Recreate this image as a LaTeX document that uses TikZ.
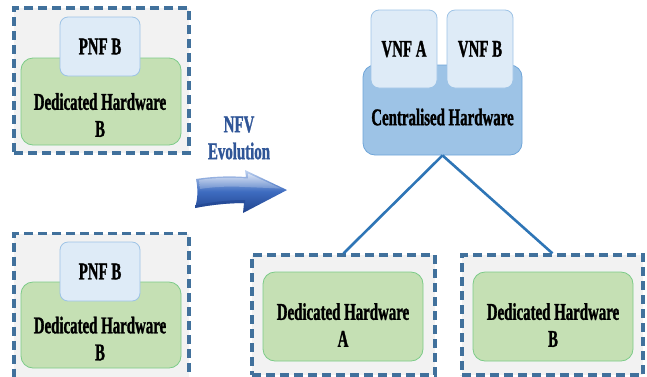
\documentclass[tikz,border=0pt]{standalone}
\usepackage{fontspec}
\setmainfont{Liberation Serif}[FakeStretch=0.62, BoldFeatures={FakeBold=1.2}]
\definecolor{frameblue}{HTML}{41719C}
\definecolor{framegray}{HTML}{F2F2F2}
\definecolor{hwgreen}{HTML}{C5E0B4}
\definecolor{hwgreenline}{HTML}{7CCB88}
\definecolor{nfblue}{HTML}{DEEBF7}
\definecolor{nfblueline}{HTML}{9DC3E6}
\definecolor{centblue}{HTML}{9DC3E6}
\definecolor{centline}{HTML}{6FA5D8}
\definecolor{linkblue}{HTML}{2E75B6}
\definecolor{titleblue}{HTML}{2F5597}
\definecolor{arrowlight}{HTML}{C0D3F0}
\definecolor{arrowmid}{HTML}{3E6CC0}
\definecolor{arrowdark}{HTML}{1F428C}
\tikzset{
  site/.style={draw=frameblue, fill=framegray, line width=3.2pt,
    dash pattern=on 9pt off 5pt, inner sep=0pt},
  hwbox/.style={draw=hwgreenline, fill=hwgreen, line width=0.8pt,
    rounded corners=12pt, inner sep=0pt, minimum width=160pt},
  nfbox/.style={draw=nfblueline, fill=nfblue, line width=0.8pt,
    rounded corners=8pt, inner sep=0pt},
  centbox/.style={draw=centline, fill=centblue, line width=0.8pt,
    rounded corners=12pt, inner sep=0pt},
  lbl/.style={font=\bfseries\fontsize{24}{27}\selectfont, align=center,
    inner sep=0pt, text=black},
  link/.style={draw=linkblue, line width=2.6pt},
}
\begin{document}
\begin{tikzpicture}[x=1pt, y=-1pt]
\useasboundingbox (0,0) rectangle (647,376);

% left: physical network functions on dedicated hardware
\node[site, minimum width=175pt, minimum height=145pt] (site1) at (101.5,80.5) {};
\node[hwbox, minimum height=87pt] (hw1) at (101,101.5) {};
\node[lbl] (hw1t) at (100,115) {Dedicated Hardware\\B};
\node[nfbox, minimum width=80pt, minimum height=59pt, lbl] (pnf1) at (100,46.5) {PNF B};

\node[site, minimum width=175pt, minimum height=145pt] (site2) at (101.5,306) {};
\node[hwbox, minimum height=86pt] (hw2) at (101,325) {};
\node[lbl] (hw2t) at (100,338.5) {Dedicated Hardware\\B};
\node[nfbox, minimum width=80pt, minimum height=59pt, lbl] (pnf2) at (100,271.5) {PNF B};

% evolution arrow
\node[lbl, text=titleblue] (evo) at (239,138) {NFV\\Evolution};
\shade[top color=arrowlight, bottom color=arrowdark, middle color=arrowmid]
  (196,179) .. controls (215,176) and (232,176) .. (246,177)
  -- (245,170) -- (287,190) -- (243,213) -- (244,203)
  .. controls (228,203) and (210,205) .. (195,208)
  .. controls (198,198) and (198,189) .. (196,179) -- cycle;
\shade[top color=white, bottom color=arrowmid!60!white, opacity=0.55]
  (199,180) .. controls (215,177.5) and (232,177.5) .. (248,178.5)
  -- (248,173.5) -- (281,188.5) -- (245,187) .. controls (228,186) and (212,187) .. (200,189) -- cycle;
\fill[arrowdark, opacity=0.5]
  (197,205) .. controls (212,202) and (228,200) .. (245,200) -- (245,203)
  .. controls (228,203) and (210,205) .. (195,208) -- cycle;

% right: virtualised functions on shared hardware
\node[centbox, minimum width=159pt, minimum height=90pt] (cent) at (442.5,110) {};
\node[lbl] (centt) at (442.5,117) {Centralised Hardware};
\node[nfbox, minimum width=66pt, minimum height=78pt, lbl] (vnfa) at (404,49) {VNF A};
\node[nfbox, minimum width=66pt, minimum height=78pt, lbl] (vnfb) at (480,49) {VNF B};

\node[site, minimum width=183pt, minimum height=120pt] (siteA) at (343.5,315) {};
\node[hwbox, minimum height=89pt] (hwA) at (343,316.5) {};
\node[lbl] (hwAt) at (343,325) {Dedicated Hardware\\A};

\node[site, minimum width=181pt, minimum height=120pt] (siteB) at (552.5,315) {};
\node[hwbox, minimum height=89pt] (hwB) at (553,316.5) {};
\node[lbl] (hwBt) at (553,325) {Dedicated Hardware\\B};

\draw[link] (cent.south) -- (siteA.north);
\draw[link] (cent.south) -- (siteB.north);
\end{tikzpicture}
\end{document}
